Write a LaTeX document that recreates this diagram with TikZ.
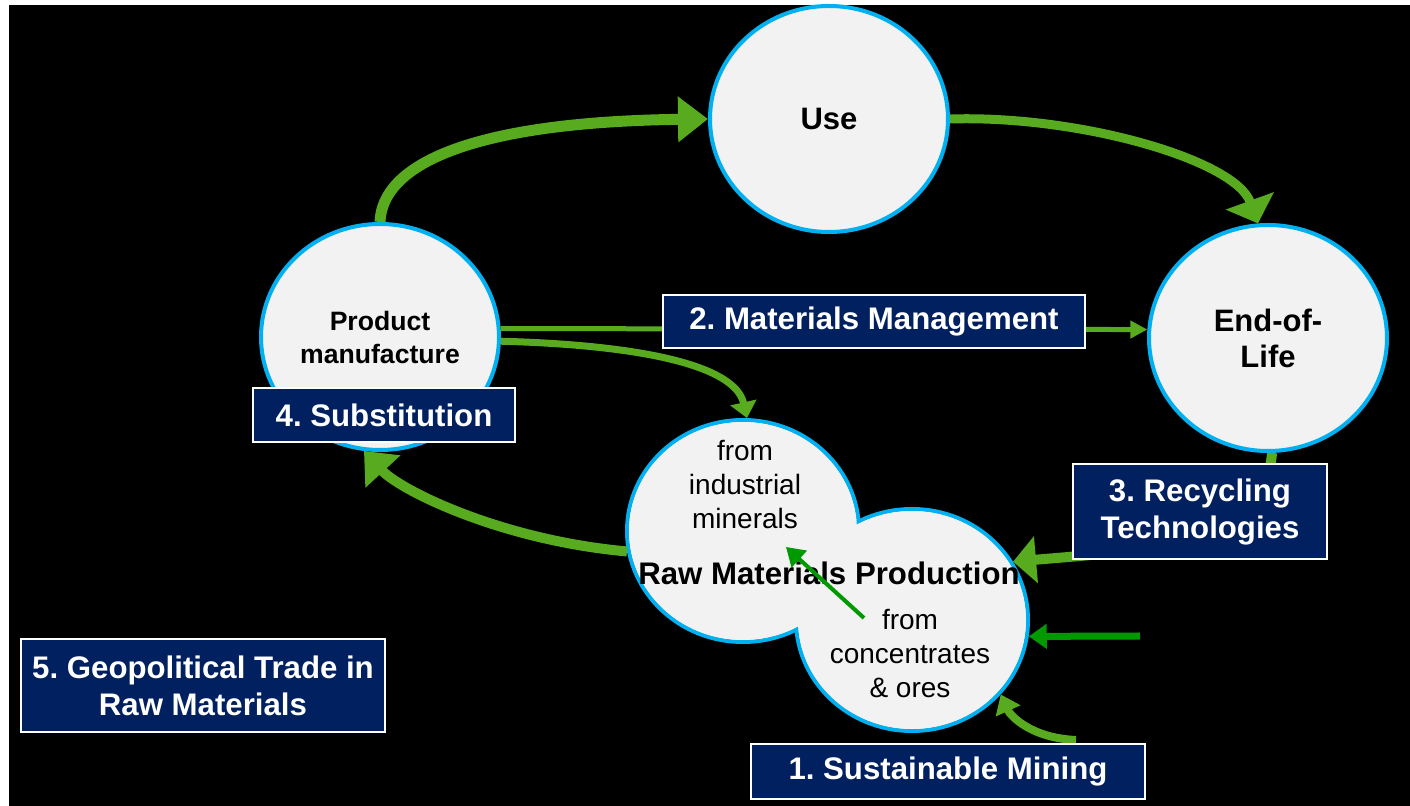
\documentclass[tikz,border=0pt]{standalone}
\usepackage{fontspec}
\setmainfont{Liberation Sans}
\usetikzlibrary{shapes.geometric, positioning, arrows.meta}
\frenchspacing

\definecolor{ringblue}{HTML}{00B0F0}
\definecolor{discgray}{HTML}{F2F2F2}
\definecolor{navy}{HTML}{002060}
\definecolor{leafgreen}{HTML}{58AA1F}
\definecolor{deepgreen}{HTML}{009A00}

\begin{document}
\begin{tikzpicture}[x=0.5pt, y=-0.5pt,
    stage/.style={ellipse, draw=ringblue, line width=2pt, fill=discgray, minimum width=119pt, minimum height=113pt, inner sep=0pt, align=center, font=\bfseries\fontsize{15.5}{18}\selectfont},
    rawpart/.style={ellipse, draw=ringblue, line width=2pt, fill=discgray, minimum width=116pt, minimum height=111pt, inner sep=0pt},
    rawcover/.style={ellipse, fill=discgray, minimum width=114pt, minimum height=109pt, inner sep=0pt},
    rawtext/.style={align=center, inner sep=0pt, font=\fontsize{14}{17}\selectfont},
    topic/.style={draw=white, line width=1pt, fill=navy, text=white, align=center, inner sep=0pt, font=\bfseries\fontsize{15.6}{18.8}\selectfont},
    flow/.style={draw=leafgreen, line width=5pt, -{Triangle[length=15pt, width=22pt]}}]
        \useasboundingbox (0,0) rectangle (1410,806);
        \fill[white] (0,0) rectangle (1410,806);
        \fill[black] (9,5) rectangle (1410,806);

        \node[stage] (use) at (829,119) {Use};
        \node[stage, font=\bfseries\fontsize{13.3}{16.5}\selectfont] (pm) at (380,337) {Product\\manufacture};
        \node[stage] (eol) at (1268,338) {End-of-\\Life};

        \node[rawpart] (rmL) at (743,531) {};
        \node[rawpart] (rmR) at (912,620) {};
        \node[rawcover] (rmLcover) at (rmL) {};
        \node[rawcover] (rmRcover) at (rmR) {};
        \node[rawtext] (ind) at (745,485) {from\\industrial\\minerals};
        \node[rawtext, font=\bfseries\fontsize{15.6}{18}\selectfont] (rmp) at (829,573) {Raw Materials Production};
        \node[rawtext] (conc) at (910,654) {from\\concentrates\\\& ores};

        \coordinate (innerfrom) at (864,618);
        \coordinate (innerto) at (786,547);
        \coordinate (supply) at (1140,636);
        \coordinate (minefoot) at (1076,740);

        \draw[flow, line width=5.5pt] (pm.north) .. controls (382,165) and (470,122) .. (use.west);
        \draw[flow, line width=4.5pt, -{Triangle[length=12pt, width=25pt]}] (use.east) .. controls (1080,115) and (1235,160) .. (eol.95);
        \draw[flow, line width=2.5pt, -{Triangle[length=8.5pt, width=8.5pt]}] (pm.4) -- (eol.176);
        \draw[flow, line width=3.5pt, -{Triangle[length=8pt, width=13pt]}] (pm.-2) .. controls (640,345) and (735,365) .. (rmL.88);
        \draw[flow, -{Triangle[length=11.5pt, width=23pt]}] (eol.-88) .. controls (1265,545) and (1150,550) .. (rmR.30);
        \draw[flow, -{Triangle[length=14pt, width=23pt]}] (rmL.190) .. controls (500,540) and (400,490) .. (pm.262);
        \draw[deepgreen, line width=2pt, -{Triangle[length=9pt, width=11pt]}] (innerfrom) -- (innerto);
        \draw[deepgreen, line width=3.5pt, -{Triangle[length=9pt, width=12pt]}] (supply) -- (rmR.-8);
        \draw[flow, line width=4pt, -{Triangle[length=9pt, width=13pt]}] (minefoot) .. controls (1030,738) and (1010,715) .. (rmR.-40);

        \node[topic, minimum width=211pt, minimum height=26.5pt] (mm) at (874,322) {2. Materials Management};
        \node[topic, minimum width=131pt, minimum height=27pt] (subst) at (384,415) {4. Substitution};
        \node[topic, minimum width=127pt, minimum height=47.5pt] (recyc) at (1200,512) {3. Recycling\\Technologies};
        \node[topic, minimum width=182pt, minimum height=46.5pt] (geo) at (203,686) {5. Geopolitical Trade in\\Raw Materials};
        \node[topic, minimum width=197pt, minimum height=27.5pt] (mine) at (948,772) {1. Sustainable Mining};
    \end{tikzpicture}
\end{document}
